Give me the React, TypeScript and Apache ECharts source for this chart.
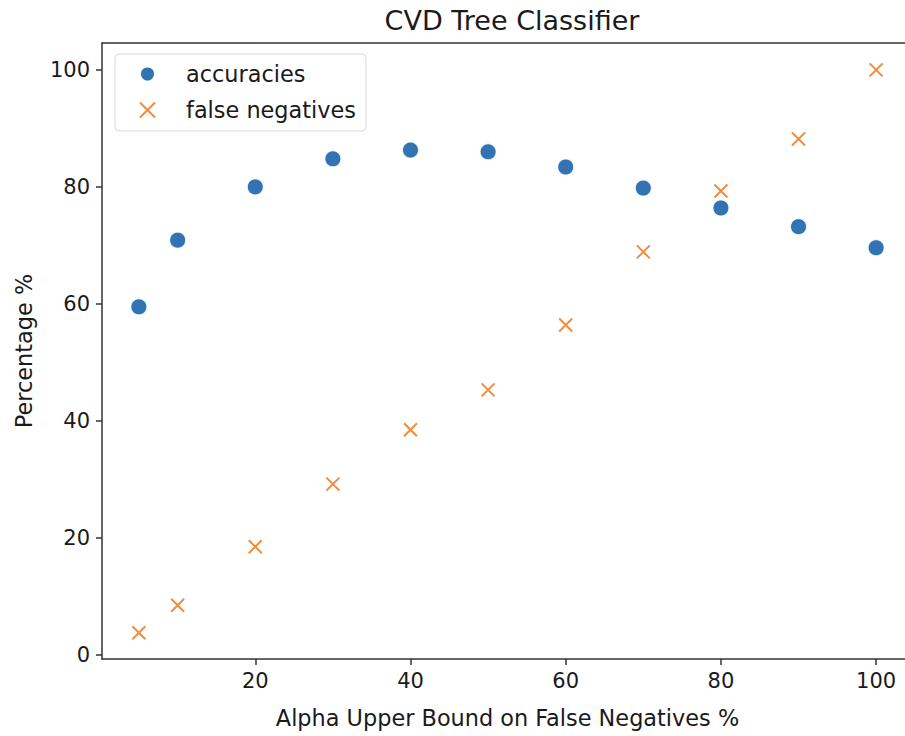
import React, { useEffect, useRef } from "react";
import * as echarts from "echarts";

const alphaValues = [5, 10, 20, 30, 40, 50, 60, 70, 80, 90, 100];
const accuracies = [59.5, 70.9, 80.0, 84.8, 86.3, 86.0, 83.4, 79.8, 76.4, 73.2, 69.6];
const falseNegatives = [3.8, 8.5, 18.5, 29.2, 38.5, 45.3, 56.4, 68.9, 79.3, 88.2, 100.0];
const xTicks = [20, 40, 60, 80, 100];
const yTicks = [0, 20, 40, 60, 80, 100];

const FONT = "DejaVu Sans";
const BLUE = "#3273b4";
const ORANGE = "#f28c3c";
const AXIS = "#333333";
const TEXT = "#1a1a1a";
const TICK_FS = 21;
const LABEL_FS = 22.4;

const X_MIN = 0.25;
const X_MAX = 104.75;

export default function App() {
  const ref = useRef<HTMLDivElement>(null);
  useEffect(() => {
    if (!ref.current) return;
    const chart = echarts.init(ref.current, undefined, { renderer: "svg" });
    chart.setOption({
      animation: false,
      backgroundColor: "#ffffff",
      textStyle: { fontFamily: FONT },
      title: {
        text: "CVD Tree Classifier",
        left: 507,
        top: 2,
        textAlign: "center",
        textStyle: { fontFamily: FONT, fontSize: 27, fontWeight: "normal", color: TEXT },
      },
      grid: {
        left: 102,
        top: 43,
        width: 811,
        height: 616,
        show: false,
        containLabel: false,
        outerBoundsMode: "none",
      },
      legend: {
        left: 115,
        top: 54,
        orient: "vertical",
        itemGap: 10,
        itemWidth: 15,
        itemHeight: 15,
        padding: [7, 10, 8, 24],
        backgroundColor: "#ffffff",
        borderColor: "#d8d8d8",
        borderWidth: 1,
        borderRadius: 4,
        textStyle: { fontFamily: FONT, fontSize: LABEL_FS, lineHeight: 26, color: TEXT, padding: [0, 0, 0, 26] },
        data: ["accuracies", "false negatives"],
      },
      xAxis: [
        {
          type: "value",
          min: X_MIN,
          max: X_MAX,
          name: "Alpha Upper Bound on False Negatives %",
          nameLocation: "middle",
          nameGap: 48,
          nameTextStyle: { fontFamily: FONT, fontSize: LABEL_FS, color: TEXT },
          splitLine: { show: false },
          axisLine: { show: true, onZero: false, lineStyle: { color: AXIS, width: 1.5 } },
          axisTick: { show: true, length: 6, inside: false, customValues: xTicks, lineStyle: { color: AXIS, width: 1.5 } },
          axisLabel: { customValues: xTicks, fontFamily: FONT, fontSize: TICK_FS, color: TEXT, margin: 11 },
        },
        {
          type: "value",
          position: "top",
          min: X_MIN,
          max: X_MAX,
          splitLine: { show: false },
          axisLine: { show: true, onZero: false, lineStyle: { color: AXIS, width: 1.5 } },
          axisTick: { show: false },
          axisLabel: { show: false },
        },
      ],
      yAxis: {
        type: "value",
        min: -0.7,
        max: 104.6,
        name: "Percentage %",
        nameLocation: "middle",
        nameGap: 67,
        nameRotate: 90,
        nameTextStyle: { fontFamily: FONT, fontSize: LABEL_FS, color: TEXT },
        splitLine: { show: false },
        axisLine: { show: true, onZero: false, lineStyle: { color: AXIS, width: 1.5 } },
        axisTick: { show: true, length: 6, inside: false, customValues: yTicks, lineStyle: { color: AXIS, width: 1.5 } },
        axisLabel: { customValues: yTicks, fontFamily: FONT, fontSize: TICK_FS, color: TEXT, margin: 12 },
      },
      series: [
        {
          name: "accuracies",
          type: "scatter",
          symbol: "circle",
          symbolSize: 16,
          data: alphaValues.map((x, i) => [x, accuracies[i]]),
          itemStyle: { color: BLUE, borderColor: "#ffffff", borderWidth: 0.8, opacity: 1 },
        },
        {
          name: "false negatives",
          type: "scatter",
          symbol: "path://M0,0L10,10M10,0L0,10",
          symbolSize: 13,
          data: alphaValues.map((x, i) => [x, falseNegatives[i]]),
          itemStyle: { color: ORANGE, borderColor: ORANGE, borderWidth: 2, opacity: 1 },
        },
      ],
    });
    return () => chart.dispose();
  }, []);
  return (
    <div
      ref={ref}
      style={{ position: "fixed", left: 0, top: 0, width: 905, height: 736, overflow: "hidden", background: "#fff" }}
    />
  );
}
